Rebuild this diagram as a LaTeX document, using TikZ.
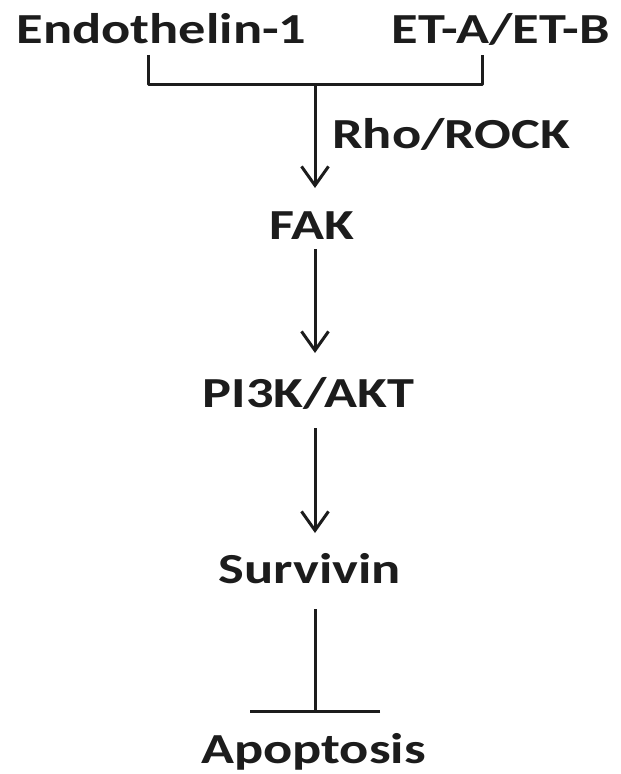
\documentclass[tikz,border=0pt]{standalone}
\usepackage{fontspec}
\setmainfont{Carlito}[FakeStretch=1.27]
\usetikzlibrary{arrows.meta,calc}
\definecolor{ink}{RGB}{28,28,28}
\begin{document}
\begin{tikzpicture}[x=1bp,y=-1bp,
  lbl/.style={inner sep=0pt,anchor=base,text=ink,font=\fontsize{43}{50}\selectfont\bfseries},
  conn/.style={draw=ink,line width=3bp},
  arr/.style={conn,-{Straight Barb[length=19bp,width=27bp]}},
  inh/.style={conn,-{Bar[width=130bp]}}]
\useasboundingbox (0,0) rectangle (621,774);
\node[lbl] (e1) at (161.5,44) {Endothelin-1};
\node[lbl] (et) at (500.5,44) {ET-A/ET-B};
\node[lbl,anchor=base west] (rho) at (332,148) {Rho/ROCK};
\node[lbl] (fak) at (312,239) {FAK};
\node[lbl] (pi3k) at (308.5,407) {PI3K/AKT};
\node[lbl] (surv) at (310,583) {Survivin};
\node[lbl] (apop) at (313.5,763) {Apoptosis};
\coordinate (ax) at (315,0);
\coordinate (bl) at (148,55);
\coordinate (blc) at (148,84);
\coordinate (br) at (482,55);
\coordinate (brc) at (482,84);
\coordinate (j) at (315,84);
\draw[conn,line join=round] (bl) -- (blc) -- (brc) -- (br);
\draw[arr] (j) -- ($(ax |- fak.base)+(0,-51)$);
\draw[arr] ($(ax |- fak.base)+(0,10)$) -- ($(ax |- pi3k.base)+(0,-54)$);
\draw[arr] ($(ax |- pi3k.base)+(0,21)$) -- ($(ax |- surv.base)+(0,-50)$);
\draw[inh] ($(ax |- surv.base)+(0,26)$) -- ($(ax |- apop.base)+(0,-50)$);
\end{tikzpicture}
\end{document}
